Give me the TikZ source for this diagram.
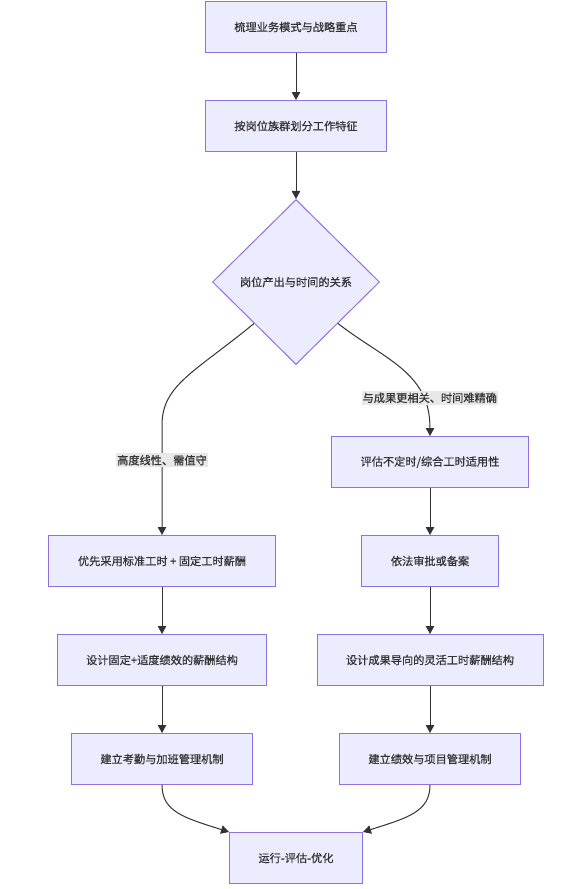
\documentclass[tikz,border=0pt]{standalone}
\usepackage{fontspec}
\setmainfont{Noto Sans CJK SC}[FakeBold=0.6]
\usetikzlibrary{arrows.meta,shapes.geometric}
\definecolor{mmfill}{HTML}{ECECFF}
\definecolor{mmline}{HTML}{9370DB}
\definecolor{mmink}{HTML}{333333}
\definecolor{mmlbl}{HTML}{E8E8E8}

\begin{document}
\begin{tikzpicture}[x=1pt, y=-1pt, font=\fontsize{11.2}{13}\selectfont, text=mmink,
    stepbox/.style={draw=mmline, fill=mmfill, line width=1pt, minimum height=51pt, inner xsep=29pt},
    choice/.style={diamond, draw=mmline, fill=mmfill, line width=1pt, inner sep=0pt,
      minimum width=167pt, minimum height=165pt},
    flow/.style={draw=mmink, line width=1pt, -{Triangle[length=8pt, width=8.5pt]}},
    lbl/.style={fill=mmlbl, inner xsep=1pt, inner ysep=2pt, text=mmink},
  ]
  \useasboundingbox (0,0) rectangle (566,889);

  % trunk
  \node[stepbox] (biz) at (296,27) {梳理业务模式与战略重点};
  \node[stepbox] (job) at (296,126) {按岗位族群划分工作特征};
  \node[choice] (rel) at (296,282) {岗位产出与时间的关系};

  % left branch: standard hours
  \node[stepbox] (std) at (162,561) {优先采用标准工时 + 固定工时薪酬};
  \node[stepbox] (fix) at (162,660) {设计固定+适度绩效的薪酬结构};
  \node[stepbox] (att) at (162,759) {建立考勤与加班管理机制};

  % right branch: flexible hours
  \node[stepbox] (flx) at (430,462) {评估不定时/综合工时适用性};
  \node[stepbox] (apr) at (430,561) {依法审批或备案};
  \node[stepbox] (res) at (430,660) {设计成果导向的灵活工时薪酬结构};
  \node[stepbox] (prj) at (430,759) {建立绩效与项目管理机制};

  \node[stepbox] (run) at (296,858) {运行-评估-优化};

  % connectors
  \draw[flow] (biz) -- (job);
  \draw[flow] (job) -- (rel);
  \draw[flow] (rel.south west) .. controls (195,372) and (162,385) .. (162,425)
    -- node[lbl, pos=0.32] {高度线性、需值守} (std.north);
  \draw[flow] (rel.south east) .. controls (385,360) and (430,372) .. (flx.north)
    node[lbl, pos=0.76, xshift=7pt] {与成果更相关、时间难精确};
  \draw[flow] (std) -- (fix);
  \draw[flow] (fix) -- (att);
  \draw[flow] (flx) -- (apr);
  \draw[flow] (apr) -- (res);
  \draw[flow] (res) -- (prj);
  \draw[flow] (att.south) .. controls (162,812) and (185,818) .. (run.north west);
  \draw[flow] (prj.south) .. controls (430,812) and (407,818) .. (run.north east);
\end{tikzpicture}
\end{document}
